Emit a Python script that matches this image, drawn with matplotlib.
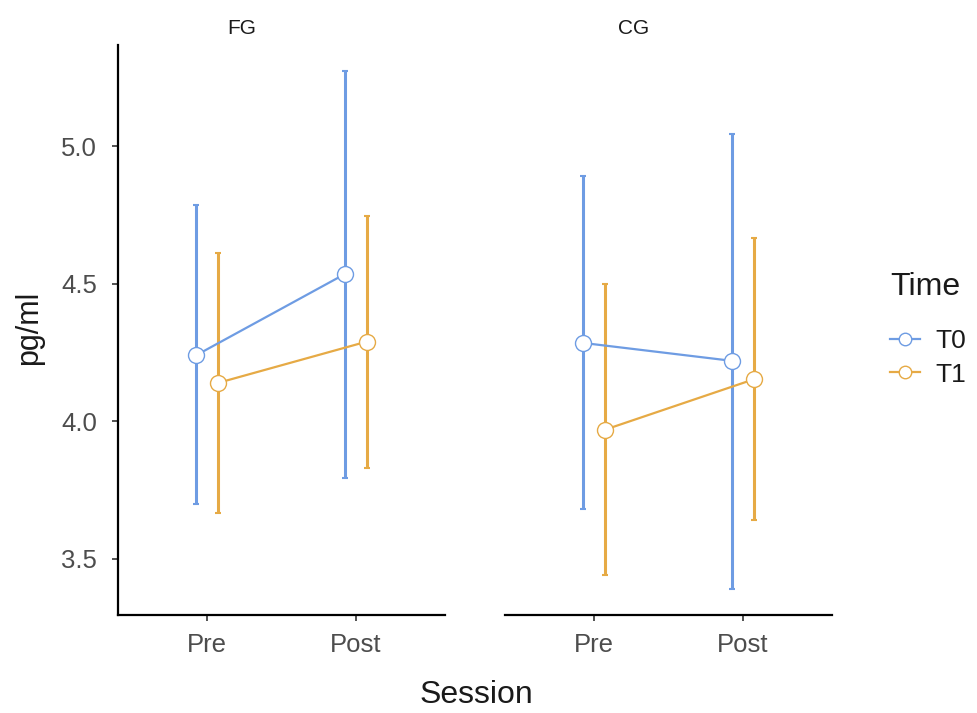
import matplotlib
matplotlib.use('Agg')
import matplotlib.pyplot as plt
from matplotlib.lines import Line2D
import numpy as np

plt.rcParams['font.family'] = ['Liberation Sans', 'DejaVu Sans']

sessions = ['Pre', 'Post']
groups = ['FG', 'CG']
times = ['T0', 'T1']

# means and error-bar limits, per group and time
fg_t0_mean = [4.240, 4.535]
fg_t0_lo = [3.700, 3.795]
fg_t0_hi = [4.785, 5.275]
fg_t1_mean = [4.140, 4.290]
fg_t1_lo = [3.665, 3.832]
fg_t1_hi = [4.613, 4.745]

cg_t0_mean = [4.285, 4.220]
cg_t0_lo = [3.680, 3.392]
cg_t0_hi = [4.890, 5.045]
cg_t1_mean = [3.970, 4.153]
cg_t1_lo = [3.440, 3.643]
cg_t1_hi = [4.500, 4.665]

data = {
    'FG': {'T0': (fg_t0_mean, fg_t0_lo, fg_t0_hi), 'T1': (fg_t1_mean, fg_t1_lo, fg_t1_hi)},
    'CG': {'T0': (cg_t0_mean, cg_t0_lo, cg_t0_hi), 'T1': (cg_t1_mean, cg_t1_lo, cg_t1_hi)},
}

colors = {'T0': '#6E9CE3', 'T1': '#E6AA45'}
dodge = {'T0': -0.075, 'T1': 0.075}

W, H = 977, 713
fig = plt.figure(figsize=(W / 100, H / 100), dpi=100)

panel_left = {'FG': 118, 'CG': 505}
panel_w = 327
bottom, top = 615, 45

ylim = (3.296, 5.368)
txt_dark = '#1A1A1A'

for g in groups:
    ax = fig.add_axes([panel_left[g] / W, 1 - bottom / H, panel_w / W, (bottom - top) / H])
    x = np.arange(len(sessions))
    for t in times:
        m, lo, hi = data[g][t]
        m = np.array(m); lo = np.array(lo); hi = np.array(hi)
        xs = x + dodge[t]
        ax.errorbar(xs, m, yerr=[m - lo, hi - m], fmt='none', ecolor=colors[t],
                    elinewidth=2.2, capsize=2.5, capthick=1.5, zorder=2)
        ax.plot(xs, m, color=colors[t], lw=1.6, zorder=3)
        ax.plot(xs, m, ls='none', marker='o', ms=11.5, mfc='white', mec=colors[t],
                mew=1.0, zorder=4)
    ax.set_xlim(-0.6, 1.6)
    ax.set_ylim(*ylim)
    ax.set_xticks(x)
    ax.set_xticklabels(sessions)
    ax.spines['top'].set_visible(False)
    ax.spines['right'].set_visible(False)
    ax.spines['bottom'].set_linewidth(1.6)
    ax.spines['left'].set_linewidth(1.6)
    ax.tick_params(axis='both', length=4, width=1.2, color='#333333',
                   labelsize=18.5, labelcolor='#4D4D4D')
    ax.tick_params(axis='x', pad=9)
    ax.tick_params(axis='y', pad=11)
    if g == 'FG':
        ax.set_yticks([3.5, 4.0, 4.5, 5.0])
        ax.set_yticklabels(['3.5', '4.0', '4.5', '5.0'])
    else:
        ax.spines['left'].set_visible(False)
        ax.set_yticks([])

# facet strip labels
fig.text(242 / W, 1 - 29 / H, 'FG', ha='center', va='center', fontsize=15, color=txt_dark)
fig.text(634 / W, 1 - 29 / H, 'CG', ha='center', va='center', fontsize=15, color=txt_dark)

fig.text(476 / W, 1 - 695 / H, 'Session', ha='center', va='center', fontsize=23, color=txt_dark)
fig.text(29 / W, 1 - 328 / H, 'pg/ml', ha='center', va='center', rotation=90,
         fontsize=22, color=txt_dark)

# legend: title as its own text, keys below it
fig.text(890 / W, 1 - 287 / H, 'Time', ha='left', va='center', fontsize=23, color=txt_dark)
handles = [Line2D([0], [0], color=colors[t], lw=1.6, marker='o', ms=9,
                  mfc='white', mec=colors[t], mew=1.0) for t in times]
leg = fig.legend(handles, times, loc='upper left',
                 bbox_to_anchor=(872 / W, 1 - 311 / H), frameon=False,
                 fontsize=19, handlelength=1.1, handletextpad=0.6,
                 labelspacing=0.35, borderpad=0.2)
for txt in leg.get_texts():
    txt.set_color(txt_dark)

fig.savefig('out.png', dpi=100)
